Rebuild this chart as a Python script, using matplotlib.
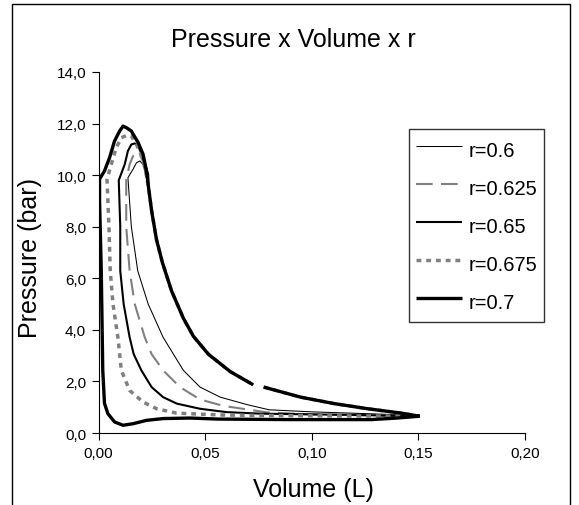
import matplotlib
matplotlib.use('Agg')
import matplotlib.pyplot as plt
from matplotlib.patches import Rectangle
from matplotlib.ticker import FuncFormatter
import numpy as np

plt.rcParams['font.family'] = ['Liberation Sans', 'DejaVu Sans']

# expansion branch, common to all r (the curves lie on top of each other)
v_exp = [0.0235, 0.0249, 0.0272, 0.0300, 0.0343, 0.0398, 0.0445, 0.0516, 0.0618, 0.0725,
         np.nan, 0.0775, 0.0948, 0.1105, 0.1263, 0.142, 0.1506]
p_exp = [9.5, 8.62, 7.5, 6.6, 5.5, 4.45, 3.75, 3.05, 2.38, 1.87,
         np.nan, 1.78, 1.39, 1.14, 0.94, 0.77, 0.65]

# compression + combustion part of each loop (from right end to the peak)
v_06 = [0.1506, 0.142, 0.126, 0.10, 0.080, 0.0697, 0.0571, 0.0476, 0.0398, 0.0303, 0.0233,
        0.0184, 0.0154, 0.0138, 0.0162, 0.0178, 0.0194, 0.021]
p_06 = [0.65, 0.70, 0.75, 0.82, 0.90, 1.10, 1.39, 1.78, 2.43, 3.71, 5.0,
        6.29, 8.0, 9.9, 10.23, 10.48, 10.55, 10.4]

v_0625 = [0.1506, 0.13, 0.10, 0.079, 0.0586, 0.0476, 0.0382, 0.0303, 0.0249, 0.0217, 0.0170,
          0.0146, 0.013, 0.013, 0.0146, 0.0162, 0.0178, 0.0194, 0.0215]
p_0625 = [0.65, 0.68, 0.72, 0.80, 1.05, 1.3, 1.78, 2.43, 3.06, 3.71, 5.0,
          6.29, 8.0, 9.8, 10.42, 10.74, 10.87, 10.8, 10.4]

v_065 = [0.1506, 0.12, 0.076, 0.060, 0.0476, 0.0367, 0.0303, 0.0249, 0.0201, 0.0165, 0.0146,
         0.0118, 0.0102, 0.0102, 0.0095, 0.0123, 0.0138, 0.0154, 0.017, 0.0186, 0.0209, 0.0233]
p_065 = [0.65, 0.70, 0.75, 0.81, 0.94, 1.14, 1.39, 1.78, 2.43, 3.06, 3.71,
         5.0, 6.29, 8.0, 9.8, 10.42, 10.94, 11.19, 11.23, 11.13, 10.68, 10.03]

v_0675 = [0.1506, 0.12, 0.076, 0.0571, 0.0366, 0.0273, 0.0209, 0.0146, 0.0107, 0.0091, 0.0068,
          0.0055, 0.0049, 0.0040, 0.006, 0.0083, 0.0107, 0.0131, 0.0154, 0.0178, 0.0205, 0.0222]
p_0675 = [0.65, 0.66, 0.68, 0.70, 0.77, 0.94, 1.2, 1.65, 2.43, 3.71, 5.0,
          6.29, 8.0, 9.84, 10.42, 11.06, 11.45, 11.54, 11.52, 11.19, 10.7, 10.1]

v_07 = [0.1506, 0.14, 0.128, 0.09, 0.056, 0.0429, 0.0303, 0.0225, 0.0162, 0.0115, 0.0075,
        0.0044, 0.0028, 0.002, 0.0013, 0.0005, 0.0005, 0.0028, 0.0052, 0.0075, 0.0099, 0.0115,
        0.0131, 0.0154, 0.0186, 0.0209, 0.0225]
p_07 = [0.65, 0.58, 0.52, 0.52, 0.54, 0.58, 0.56, 0.49, 0.36, 0.30, 0.43,
        0.75, 1.15, 2.43, 6.29, 9.0, 9.85, 10.16, 10.68, 11.32, 11.71, 11.9,
        11.84, 11.71, 11.26, 10.81, 10.16]

labels = ['r=0.6', 'r=0.625', 'r=0.65', 'r=0.675', 'r=0.7']

fig = plt.figure(figsize=(5.79, 5.06), dpi=100)
ax = fig.add_axes([98.5 / 579, 1 - 434 / 506, (525 - 98.5) / 579, (434 - 73) / 506])

gray = '#808080'
styles = [
    dict(color='black', lw=0.75, ls='-'),
    dict(color=gray, lw=1.5, ls=(0, (8, 4))),
    dict(color='black', lw=1.5, ls='-'),
    dict(color=gray, lw=2.5, ls=(0, (1.4, 1.4))),
    dict(color='black', lw=2.4, ls='-'),
]
series = [(v_06, p_06), (v_0625, p_0625), (v_065, p_065), (v_0675, p_0675), (v_07, p_07)]

for (v, p), st, lab in zip(series, styles, labels):
    vv = list(v) + v_exp
    pp = list(p) + p_exp
    ax.plot(vv, pp, label=lab, solid_capstyle='butt', dash_capstyle='butt', **st)

ax.set_xlim(0, 0.20)
ax.set_ylim(0, 14)
ax.set_xticks(np.arange(0, 0.201, 0.05))
ax.set_yticks(np.arange(0, 14.1, 2))
ax.xaxis.set_major_formatter(FuncFormatter(lambda x, _: f'{x:.2f}'.replace('.', ',')))
ax.yaxis.set_major_formatter(FuncFormatter(lambda y, _: f'{y:.1f}'.replace('.', ',')))
ax.tick_params(direction='out', length=5, width=0.8, labelsize=11, colors='black', pad=4)
ax.spines['top'].set_visible(False)
ax.spines['right'].set_visible(False)
for s in ['left', 'bottom']:
    ax.spines[s].set_linewidth(0.8)

leg = ax.legend(loc='upper left', bbox_to_anchor=(409 / 579, 1 - 130 / 506),
                bbox_transform=fig.transFigure, fontsize=14.5, frameon=True,
                fancybox=False, edgecolor='black', handlelength=2.3, handleheight=1.68,
                labelspacing=0.55, borderpad=0.35, handletextpad=0.3, borderaxespad=0)
leg.get_frame().set_linewidth(1.0)

fig.text(293 / 579, 1 - 40 / 506, 'Pressure x Volume x r', ha='center', va='center', fontsize=18)
fig.text(313 / 579, 1 - 490 / 506, 'Volume (L)', ha='center', va='center', fontsize=18)
fig.text(30 / 579, 1 - 258 / 506, 'Pressure (bar)', ha='center', va='center', fontsize=18,
         rotation=90)

fig.patches.append(Rectangle((12 / 579, -0.1), (570 - 12) / 579, 1.1 - 5 / 506,
                             transform=fig.transFigure, fill=False, edgecolor='black', lw=1.0))

fig.savefig('out.png', dpi=100)
